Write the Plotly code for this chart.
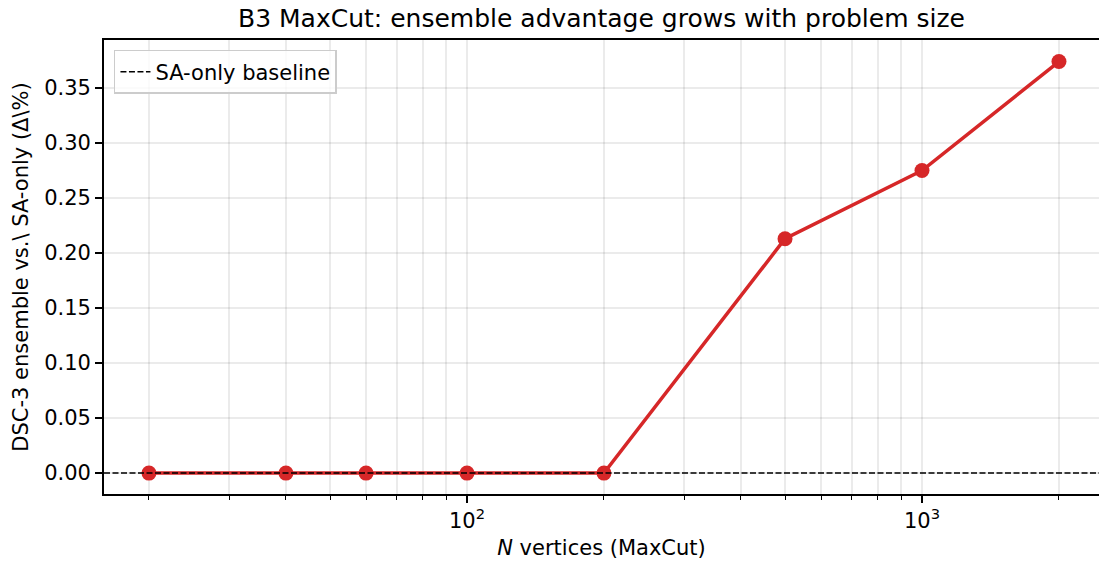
import plotly.graph_objects as go

n_vertices = [20, 40, 60, 100, 200, 500, 1000, 2000]
delta_pct = [0.0, 0.0, 0.0, 0.0, 0.0, 0.213, 0.275, 0.374]
baseline_value = 0.0

x_major_ticks = [100, 1000]
x_major_labels = ["10<sup>2</sup>", "10<sup>3</sup>"]
x_minor_ticks = [20, 30, 40, 50, 60, 70, 80, 90, 200, 300, 400, 500, 600, 700, 800, 900, 2000]
y_ticks = [0.0, 0.05, 0.10, 0.15, 0.20, 0.25, 0.30, 0.35]

FONT = "DejaVu Sans"
GRID = "rgba(0,0,0,0.08)"
FS = 21

fig = go.Figure()
fig.add_trace(go.Scatter(
    x=n_vertices, y=delta_pct, mode="lines+markers",
    line=dict(color="#d62728", width=3.5),
    marker=dict(color="#d62728", size=15),
    showlegend=False, name="DSC-3 ensemble",
))
fig.add_hline(y=baseline_value, line=dict(color="black", width=1.5, dash="6px,2.5px"),
              showlegend=True, name="SA-only baseline", layer="above")

fig.update_layout(
    width=1099, height=563,
    margin=dict(l=104, r=0, t=40, b=69),
    paper_bgcolor="white", plot_bgcolor="white",
    font=dict(family=FONT, size=FS, color="black"),
    title=dict(text="B3 MaxCut: ensemble advantage grows with problem size",
               xref="paper", x=0.5, xanchor="center", y=0.967, yanchor="middle",
               font=dict(family=FONT, size=25, color="black")),
    legend=dict(x=0.01, y=0.978, xanchor="left", yanchor="top",
                bgcolor="rgba(255,255,255,0.8)", bordercolor="#cccccc", borderwidth=1.5,
                font=dict(family=FONT, size=FS), itemwidth=30,
                tracegroupgap=0),
)
fig.update_xaxes(
    type="log", range=[1.2022, 3.389],
    tickmode="array", tickvals=x_major_ticks, ticktext=x_major_labels,
    ticks="outside", ticklen=7, tickwidth=1.6, tickcolor="black",
    showgrid=True, gridcolor=GRID, gridwidth=1.6,
    minor=dict(tickmode="array", tickvals=x_minor_ticks, ticks="outside",
               ticklen=4, tickwidth=1.2, tickcolor="black",
               showgrid=True, gridcolor=GRID, gridwidth=1.6),
    showline=True, linecolor="black", linewidth=1.7, mirror=True,
    zeroline=False,
    title=dict(text="<i>N</i> vertices (MaxCut)", standoff=8,
               font=dict(family=FONT, size=FS)),
)
fig.update_yaxes(
    range=[-0.019, 0.3936],
    tickmode="array", tickvals=y_ticks, tickformat=".2f",
    ticks="outside", ticklen=7, tickwidth=1.6, tickcolor="black",
    showgrid=True, gridcolor=GRID, gridwidth=1.6,
    showline=True, linecolor="black", linewidth=1.7,
    zeroline=False,
    title=dict(text="DSC-3 ensemble vs.\\ SA-only (Δ\\%)", standoff=10,
               font=dict(family=FONT, size=FS)),
)

fig.write_html("out.html")
